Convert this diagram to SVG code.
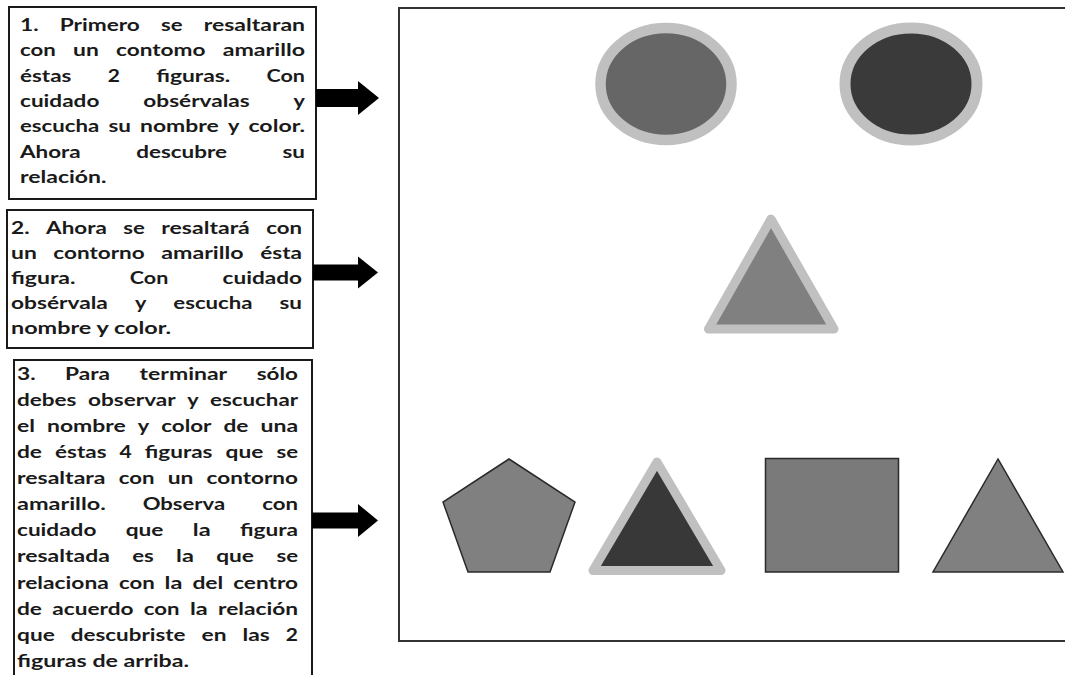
<svg xmlns="http://www.w3.org/2000/svg" width="1065" height="675" viewBox="0 0 1065 675">
<style>
.bx{fill:#fff;stroke:#1a1a1a;stroke-width:2}
.w{font-family:Lato,"Open Sans","Liberation Sans",sans-serif;font-weight:700;font-size:16.5px;fill:#1a1a1a}
.hl{stroke:#c0c0c0;stroke-linejoin:round}
.pl{stroke:#2a2a2a;stroke-width:1.5;stroke-linejoin:miter}
.arr{fill:#000}
</style>
<rect width="1065" height="675" fill="#fff"/>

<g id="panel">
<rect x="399" y="8" width="700" height="633" fill="#fff" stroke="#333" stroke-width="2"/>
</g>

<g id="circle-gray"><ellipse cx="666" cy="84" rx="65.5" ry="56" fill="#666" class="hl" stroke-width="10.5"/></g>
<g id="circle-dark"><ellipse cx="911" cy="84" rx="66" ry="56" fill="#3a3a3a" class="hl" stroke-width="11"/></g>
<g id="triangle-center"><polygon points="771,219 708.5,329 834,329" fill="#808080" class="hl" stroke-width="9"/></g>
<g id="pentagon"><polygon points="509,459 575,502 550,572 468,572 443,502" fill="#808080" class="pl"/></g>
<g id="triangle-dark"><polygon points="657,462 593,570.5 721,570.5" fill="#383838" class="hl" stroke-width="9"/></g>
<g id="square"><rect x="765.5" y="458.5" width="133" height="113.5" fill="#7a7a7a" class="pl" stroke="#222"/></g>
<g id="triangle-right"><polygon points="998,459 933,572 1063,572" fill="#808080" class="pl"/></g>

<g id="box1">
<rect class="bx" x="9" y="7" width="307" height="192"/>
<text class="w" x="20" y="31" textLength="18.6" lengthAdjust="spacingAndGlyphs">1.</text>
<text class="w" x="59.7" y="31" textLength="80.2" lengthAdjust="spacingAndGlyphs">Primero</text>
<text class="w" x="161" y="31" textLength="21.6" lengthAdjust="spacingAndGlyphs">se</text>
<text class="w" x="203.7" y="31" textLength="101.4" lengthAdjust="spacingAndGlyphs">resaltaran</text>
<text class="w" x="20" y="56.3" textLength="35.8" lengthAdjust="spacingAndGlyphs">con</text>
<text class="w" x="73" y="56.3" textLength="25.8" lengthAdjust="spacingAndGlyphs">un</text>
<text class="w" x="116" y="56.3" textLength="89.5" lengthAdjust="spacingAndGlyphs">contomo</text>
<text class="w" x="222.7" y="56.3" textLength="82.3" lengthAdjust="spacingAndGlyphs">amarillo</text>
<text class="w" x="20" y="81.6" textLength="51.4" lengthAdjust="spacingAndGlyphs">éstas</text>
<text class="w" x="107.7" y="81.6" textLength="12.2" lengthAdjust="spacingAndGlyphs">2</text>
<text class="w" x="156.2" y="81.6" textLength="74.1" lengthAdjust="spacingAndGlyphs">figuras.</text>
<text class="w" x="266.5" y="81.6" textLength="38.5" lengthAdjust="spacingAndGlyphs">Con</text>
<text class="w" x="20" y="106.9" textLength="79.4" lengthAdjust="spacingAndGlyphs">cuidado</text>
<text class="w" x="143.3" y="106.9" textLength="106.5" lengthAdjust="spacingAndGlyphs">obsérvalas</text>
<text class="w" x="293.6" y="106.9" textLength="11.4" lengthAdjust="spacingAndGlyphs">y</text>
<text class="w" x="20" y="132.2" textLength="79.3" lengthAdjust="spacingAndGlyphs">escucha</text>
<text class="w" x="108.4" y="132.2" textLength="22.5" lengthAdjust="spacingAndGlyphs">su</text>
<text class="w" x="140" y="132.2" textLength="78.8" lengthAdjust="spacingAndGlyphs">nombre</text>
<text class="w" x="227.9" y="132.2" textLength="11.4" lengthAdjust="spacingAndGlyphs">y</text>
<text class="w" x="248.4" y="132.2" textLength="56.6" lengthAdjust="spacingAndGlyphs">color.</text>
<text class="w" x="20" y="157.5" textLength="60.7" lengthAdjust="spacingAndGlyphs">Ahora</text>
<text class="w" x="136.2" y="157.5" textLength="90.9" lengthAdjust="spacingAndGlyphs">descubre</text>
<text class="w" x="282.5" y="157.5" textLength="22.5" lengthAdjust="spacingAndGlyphs">su</text>
<text class="w" x="20" y="182.8" textLength="86.5" lengthAdjust="spacingAndGlyphs">relación.</text>
</g>

<g id="box2">
<rect class="bx" x="7" y="210" width="306" height="138"/>
<text class="w" x="11" y="234" textLength="18.6" lengthAdjust="spacingAndGlyphs">2.</text>
<text class="w" x="46.1" y="234" textLength="60.7" lengthAdjust="spacingAndGlyphs">Ahora</text>
<text class="w" x="123.2" y="234" textLength="21.6" lengthAdjust="spacingAndGlyphs">se</text>
<text class="w" x="161.3" y="234" textLength="88.5" lengthAdjust="spacingAndGlyphs">resaltará</text>
<text class="w" x="266.2" y="234" textLength="35.8" lengthAdjust="spacingAndGlyphs">con</text>
<text class="w" x="11" y="259" textLength="25.8" lengthAdjust="spacingAndGlyphs">un</text>
<text class="w" x="53.3" y="259" textLength="91.4" lengthAdjust="spacingAndGlyphs">contorno</text>
<text class="w" x="161.2" y="259" textLength="82.4" lengthAdjust="spacingAndGlyphs">amarillo</text>
<text class="w" x="260.2" y="259" textLength="41.8" lengthAdjust="spacingAndGlyphs">ésta</text>
<text class="w" x="11" y="284" textLength="64.5" lengthAdjust="spacingAndGlyphs">figura.</text>
<text class="w" x="129.8" y="284" textLength="38.5" lengthAdjust="spacingAndGlyphs">Con</text>
<text class="w" x="222.6" y="284" textLength="79.4" lengthAdjust="spacingAndGlyphs">cuidado</text>
<text class="w" x="11" y="309" textLength="96.9" lengthAdjust="spacingAndGlyphs">obsérvala</text>
<text class="w" x="134.9" y="309" textLength="11.4" lengthAdjust="spacingAndGlyphs">y</text>
<text class="w" x="173.3" y="309" textLength="79.3" lengthAdjust="spacingAndGlyphs">escucha</text>
<text class="w" x="279.5" y="309" textLength="22.5" lengthAdjust="spacingAndGlyphs">su</text>
<text class="w" x="11" y="334" textLength="160" lengthAdjust="spacingAndGlyphs">nombre y color.</text>
</g>

<g id="box3">
<rect class="bx" x="14" y="360" width="298" height="330"/>
<text class="w" x="17" y="380" textLength="18.6" lengthAdjust="spacingAndGlyphs">3.</text>
<text class="w" x="65.1" y="380" textLength="45" lengthAdjust="spacingAndGlyphs">Para</text>
<text class="w" x="139.6" y="380" textLength="87.6" lengthAdjust="spacingAndGlyphs">terminar</text>
<text class="w" x="256.7" y="380" textLength="41.3" lengthAdjust="spacingAndGlyphs">sólo</text>
<text class="w" x="17" y="406.1" textLength="59.5" lengthAdjust="spacingAndGlyphs">debes</text>
<text class="w" x="88" y="406.1" textLength="87.7" lengthAdjust="spacingAndGlyphs">observar</text>
<text class="w" x="187.2" y="406.1" textLength="11.4" lengthAdjust="spacingAndGlyphs">y</text>
<text class="w" x="210.1" y="406.1" textLength="87.9" lengthAdjust="spacingAndGlyphs">escuchar</text>
<text class="w" x="17" y="432.1" textLength="18" lengthAdjust="spacingAndGlyphs">el</text>
<text class="w" x="47" y="432.1" textLength="78.8" lengthAdjust="spacingAndGlyphs">nombre</text>
<text class="w" x="137.8" y="432.1" textLength="11.4" lengthAdjust="spacingAndGlyphs">y</text>
<text class="w" x="161.2" y="432.1" textLength="50.3" lengthAdjust="spacingAndGlyphs">color</text>
<text class="w" x="223.5" y="432.1" textLength="25" lengthAdjust="spacingAndGlyphs">de</text>
<text class="w" x="260.5" y="432.1" textLength="37.6" lengthAdjust="spacingAndGlyphs">una</text>
<text class="w" x="17" y="458.2" textLength="25" lengthAdjust="spacingAndGlyphs">de</text>
<text class="w" x="55.1" y="458.2" textLength="51.4" lengthAdjust="spacingAndGlyphs">éstas</text>
<text class="w" x="119.5" y="458.2" textLength="12.2" lengthAdjust="spacingAndGlyphs">4</text>
<text class="w" x="144.8" y="458.2" textLength="67.7" lengthAdjust="spacingAndGlyphs">figuras</text>
<text class="w" x="225.5" y="458.2" textLength="37.8" lengthAdjust="spacingAndGlyphs">que</text>
<text class="w" x="276.4" y="458.2" textLength="21.6" lengthAdjust="spacingAndGlyphs">se</text>
<text class="w" x="17" y="484.2" textLength="88.5" lengthAdjust="spacingAndGlyphs">resaltara</text>
<text class="w" x="118.7" y="484.2" textLength="35.8" lengthAdjust="spacingAndGlyphs">con</text>
<text class="w" x="167.7" y="484.2" textLength="25.8" lengthAdjust="spacingAndGlyphs">un</text>
<text class="w" x="206.6" y="484.2" textLength="91.4" lengthAdjust="spacingAndGlyphs">contorno</text>
<text class="w" x="17" y="510.3" textLength="88.8" lengthAdjust="spacingAndGlyphs">amarillo.</text>
<text class="w" x="142.7" y="510.3" textLength="82.5" lengthAdjust="spacingAndGlyphs">Observa</text>
<text class="w" x="262.2" y="510.3" textLength="35.8" lengthAdjust="spacingAndGlyphs">con</text>
<text class="w" x="17" y="536.4" textLength="79.4" lengthAdjust="spacingAndGlyphs">cuidado</text>
<text class="w" x="125.7" y="536.4" textLength="37.8" lengthAdjust="spacingAndGlyphs">que</text>
<text class="w" x="192.8" y="536.4" textLength="17.8" lengthAdjust="spacingAndGlyphs">la</text>
<text class="w" x="239.9" y="536.4" textLength="58.1" lengthAdjust="spacingAndGlyphs">figura</text>
<text class="w" x="17" y="562.4" textLength="92.9" lengthAdjust="spacingAndGlyphs">resaltada</text>
<text class="w" x="132.2" y="562.4" textLength="21.6" lengthAdjust="spacingAndGlyphs">es</text>
<text class="w" x="176.1" y="562.4" textLength="17.8" lengthAdjust="spacingAndGlyphs">la</text>
<text class="w" x="216.2" y="562.4" textLength="37.8" lengthAdjust="spacingAndGlyphs">que</text>
<text class="w" x="276.4" y="562.4" textLength="21.6" lengthAdjust="spacingAndGlyphs">se</text>
<text class="w" x="17" y="588.5" textLength="91.9" lengthAdjust="spacingAndGlyphs">relaciona</text>
<text class="w" x="118.9" y="588.5" textLength="35.8" lengthAdjust="spacingAndGlyphs">con</text>
<text class="w" x="164.6" y="588.5" textLength="17.8" lengthAdjust="spacingAndGlyphs">la</text>
<text class="w" x="192.4" y="588.5" textLength="30.9" lengthAdjust="spacingAndGlyphs">del</text>
<text class="w" x="233.2" y="588.5" textLength="64.8" lengthAdjust="spacingAndGlyphs">centro</text>
<text class="w" x="17" y="614.5" textLength="25" lengthAdjust="spacingAndGlyphs">de</text>
<text class="w" x="52.3" y="614.5" textLength="81.2" lengthAdjust="spacingAndGlyphs">acuerdo</text>
<text class="w" x="143.8" y="614.5" textLength="35.8" lengthAdjust="spacingAndGlyphs">con</text>
<text class="w" x="189.9" y="614.5" textLength="17.8" lengthAdjust="spacingAndGlyphs">la</text>
<text class="w" x="218" y="614.5" textLength="80.1" lengthAdjust="spacingAndGlyphs">relación</text>
<text class="w" x="17" y="640.6" textLength="37.8" lengthAdjust="spacingAndGlyphs">que</text>
<text class="w" x="70.8" y="640.6" textLength="114.7" lengthAdjust="spacingAndGlyphs">descubriste</text>
<text class="w" x="201.5" y="640.6" textLength="25" lengthAdjust="spacingAndGlyphs">en</text>
<text class="w" x="242.5" y="640.6" textLength="27.3" lengthAdjust="spacingAndGlyphs">las</text>
<text class="w" x="285.8" y="640.6" textLength="12.2" lengthAdjust="spacingAndGlyphs">2</text>
<text class="w" x="17" y="666.7" textLength="172" lengthAdjust="spacingAndGlyphs">figuras de arriba.</text>
</g>

<g id="connectors">
<polygon class="arr" points="316,89 358,89 358,81 379,98 358,115 358,107 316,107"/>
<polygon class="arr" points="313,264.5 358,264.5 358,256.5 378,272.5 358,288.5 358,280.5 313,280.5"/>
<polygon class="arr" points="312,512.5 358,512.5 358,504 378,520.5 358,537 358,528.5 312,528.5"/>
</g>
</svg>
